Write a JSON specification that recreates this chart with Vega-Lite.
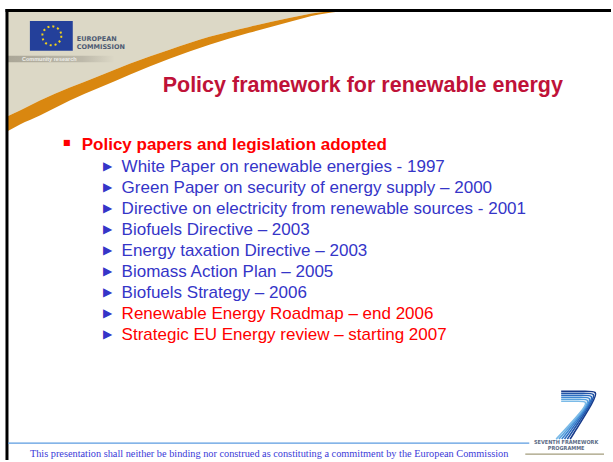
{
  "$schema": "https://vega.github.io/schema/vega-lite/v6.json",
  "width": 613,
  "height": 462,
  "autosize": {"type": "fit", "contains": "padding"},
  "padding": 0,
  "background": "#ffffff",
  "config": {"view": {"stroke": null}},
  "datasets": {
    "band": [
      {"sx": 7, "top": 117, "bot": 132},
      {"sx": 20, "top": 111, "bot": 125},
      {"sx": 40, "top": 101, "bot": 116},
      {"sx": 70, "top": 88, "bot": 101},
      {"sx": 100, "top": 76, "bot": 88},
      {"sx": 130, "top": 64, "bot": 75},
      {"sx": 170, "top": 50, "bot": 59},
      {"sx": 210, "top": 37, "bot": 45},
      {"sx": 250, "top": 27, "bot": 33},
      {"sx": 290, "top": 18, "bot": 22},
      {"sx": 320, "top": 12.5, "bot": 14.5},
      {"sx": 345, "top": 10.5, "bot": 11}
    ],
    "segments": [
      {"part": "frame top", "x1": 5.5, "y1": 10.5, "x2": 613, "y2": 10.5},
      {"part": "frame left", "x1": 7, "y1": 9, "x2": 7, "y2": 462}
    ],
    "footerlines": [
      {"part": "blue", "x1": 8, "y1": 445, "x2": 531, "y2": 445},
      {"part": "olive", "x1": 527, "y1": 456, "x2": 606, "y2": 456}
    ],
    "rects": [
      {"part": "flag", "x1": 30, "y1": 21, "x2": 73, "y2": 51}
    ],
    "strip": [
      {"part": "community", "x1": 7, "y1": 56, "x2": 115, "y2": 62.5}
    ],
    "ring": [{"part": "stars", "sx": 52, "sy": 36}],
    "labels": [
      {"part": "eu1", "sx": 77, "sy": 39, "text": "EUROPEAN"},
      {"part": "eu2", "sx": 77, "sy": 47, "text": "COMMISSION"},
      {"part": "fp1", "sx": 568, "sy": 443.5, "text": "SEVENTH FRAMEWORK"},
      {"part": "fp2", "sx": 568, "sy": 449.5, "text": "PROGRAMME"}
    ],
    "community": [{"sx": 22, "sy": 59.3, "text": "Community research"}],
    "seven": [
      {"k": 0, "i": 0, "sx": 563, "sy": 393}, {"k": 0, "i": 1, "sx": 590, "sy": 393}, {"k": 0, "i": 2, "sx": 599, "sy": 393}, {"k": 0, "i": 3, "sx": 597, "sy": 401}, {"k": 0, "i": 4, "sx": 572, "sy": 441},
      {"k": 1, "i": 0, "sx": 563, "sy": 395}, {"k": 1, "i": 1, "sx": 588.5, "sy": 395}, {"k": 1, "i": 2, "sx": 597, "sy": 395}, {"k": 1, "i": 3, "sx": 594.8, "sy": 403}, {"k": 1, "i": 4, "sx": 569.2, "sy": 441},
      {"k": 2, "i": 0, "sx": 563, "sy": 397}, {"k": 2, "i": 1, "sx": 587, "sy": 397}, {"k": 2, "i": 2, "sx": 595, "sy": 397}, {"k": 2, "i": 3, "sx": 592.6, "sy": 405}, {"k": 2, "i": 4, "sx": 566.4, "sy": 441},
      {"k": 3, "i": 0, "sx": 563, "sy": 399}, {"k": 3, "i": 1, "sx": 585.5, "sy": 399}, {"k": 3, "i": 2, "sx": 593, "sy": 399}, {"k": 3, "i": 3, "sx": 590.4, "sy": 407}, {"k": 3, "i": 4, "sx": 563.6, "sy": 441},
      {"k": 4, "i": 0, "sx": 563, "sy": 401}, {"k": 4, "i": 1, "sx": 584, "sy": 401}, {"k": 4, "i": 2, "sx": 591, "sy": 401}, {"k": 4, "i": 3, "sx": 588.2, "sy": 409}, {"k": 4, "i": 4, "sx": 560.8, "sy": 441},
      {"k": 5, "i": 0, "sx": 563, "sy": 403}, {"k": 5, "i": 1, "sx": 582.5, "sy": 403}, {"k": 5, "i": 2, "sx": 589, "sy": 403}, {"k": 5, "i": 3, "sx": 586, "sy": 411}, {"k": 5, "i": 4, "sx": 558, "sy": 441}
    ],
    "lines": [
      {"line": -2.86, "level": 7.05, "kind": "title", "text": "Policy framework for renewable energy"},
      {"line": 0, "level": 0, "kind": "heading", "text": "Policy papers and legislation adopted"},
      {"line": 1, "level": 1, "kind": "item", "text": "White Paper on renewable energies - 1997"},
      {"line": 2, "level": 1, "kind": "item", "text": "Green Paper on security of energy supply – 2000"},
      {"line": 3, "level": 1, "kind": "item", "text": "Directive on electricity from renewable sources - 2001"},
      {"line": 4, "level": 1, "kind": "item", "text": "Biofuels Directive – 2003"},
      {"line": 5, "level": 1, "kind": "item", "text": "Energy taxation Directive – 2003"},
      {"line": 6, "level": 1, "kind": "item", "text": "Biomass Action Plan – 2005"},
      {"line": 7, "level": 1, "kind": "item", "text": "Biofuels Strategy – 2006"},
      {"line": 8, "level": 1, "kind": "upcoming", "text": "Renewable Energy Roadmap – end 2006"},
      {"line": 9, "level": 1, "kind": "upcoming", "text": "Strategic EU Energy review – starting 2007"},
      {"line": 14.76, "level": -1.3, "kind": "footer", "text": "This presentation shall neither be binding nor construed as constituting a commitment by the European Commission"}
    ]
  },
  "resolve": {"scale": {"x": "independent", "y": "independent", "color": "independent", "size": "independent"}},
  "layer": [
    {
      "data": {"name": "band"},
      "mark": {"type": "area", "color": "#dcd8c6", "interpolate": "monotone"},
      "encoding": {
        "x": {"field": "sx", "type": "quantitative", "scale": {"domain": [0, 613], "nice": false, "zero": false}, "axis": null},
        "y": {"field": "top", "type": "quantitative", "scale": {"domain": [0, 462], "reverse": true, "nice": false, "zero": false}, "axis": null},
        "y2": {"datum": 10}
      }
    },
    {
      "data": {"name": "band"},
      "mark": {"type": "area", "color": "#d98710", "interpolate": "monotone"},
      "encoding": {
        "x": {"field": "sx", "type": "quantitative", "scale": {"domain": [0, 613], "nice": false, "zero": false}, "axis": null},
        "y": {"field": "top", "type": "quantitative", "scale": {"domain": [0, 462], "reverse": true, "nice": false, "zero": false}, "axis": null},
        "y2": {"field": "bot"}
      }
    },
    {
      "data": {"name": "strip"},
      "mark": {"type": "rect", "fill": {"gradient": "linear", "x1": 0, "x2": 1, "y1": 0, "y2": 0, "stops": [{"offset": 0, "color": "#aaa697"}, {"offset": 0.7, "color": "#bdb9aa"}, {"offset": 1, "color": "#dcd8c6"}]}},
      "encoding": {
        "x": {"field": "x1", "type": "quantitative", "scale": {"domain": [0, 613], "nice": false, "zero": false}, "axis": null},
        "x2": {"field": "x2"},
        "y": {"field": "y1", "type": "quantitative", "scale": {"domain": [0, 462], "reverse": true, "nice": false, "zero": false}, "axis": null},
        "y2": {"field": "y2"}
      }
    },
    {
      "data": {"name": "community"},
      "mark": {"type": "text", "font": "Liberation Sans", "fontSize": 5.5, "fontWeight": "bold", "color": "#eeeeea", "align": "left", "baseline": "middle"},
      "encoding": {
        "x": {"field": "sx", "type": "quantitative", "scale": {"domain": [0, 613], "nice": false, "zero": false}, "axis": null},
        "y": {"field": "sy", "type": "quantitative", "scale": {"domain": [0, 462], "reverse": true, "nice": false, "zero": false}, "axis": null},
        "text": {"field": "text"}
      }
    },
    {
      "data": {"name": "rects"},
      "mark": {"type": "rect", "color": "#24409a"},
      "encoding": {
        "x": {"field": "x1", "type": "quantitative", "scale": {"domain": [0, 613], "nice": false, "zero": false}, "axis": null},
        "x2": {"field": "x2"},
        "y": {"field": "y1", "type": "quantitative", "scale": {"domain": [0, 462], "reverse": true, "nice": false, "zero": false}, "axis": null},
        "y2": {"field": "y2"}
      }
    },
    {
      "data": {"name": "ring"},
      "mark": {"type": "point", "shape": "circle", "filled": false, "stroke": "#f2d21a", "strokeWidth": 2, "strokeDash": [2, 3], "size": 361, "opacity": 1},
      "encoding": {
        "x": {"field": "sx", "type": "quantitative", "scale": {"domain": [0, 613], "nice": false, "zero": false}, "axis": null},
        "y": {"field": "sy", "type": "quantitative", "scale": {"domain": [0, 462], "reverse": true, "nice": false, "zero": false}, "axis": null}
      }
    },
    {
      "data": {"name": "labels"},
      "transform": [{"filter": "datum.part == 'eu1' || datum.part == 'eu2'"}],
      "mark": {"type": "text", "font": "DejaVu Sans", "fontSize": 6.5, "fontWeight": "bold", "color": "#4d5a72", "align": "left", "baseline": "middle"},
      "encoding": {
        "x": {"field": "sx", "type": "quantitative", "scale": {"domain": [0, 613], "nice": false, "zero": false}, "axis": null},
        "y": {"field": "sy", "type": "quantitative", "scale": {"domain": [0, 462], "reverse": true, "nice": false, "zero": false}, "axis": null},
        "text": {"field": "text"}
      }
    },
    {
      "data": {"name": "labels"},
      "transform": [{"filter": "datum.part == 'fp1' || datum.part == 'fp2'"}],
      "mark": {"type": "text", "font": "DejaVu Sans Condensed", "fontSize": 5.5, "fontWeight": "bold", "color": "#5c6b85", "align": "center", "baseline": "middle"},
      "encoding": {
        "x": {"field": "sx", "type": "quantitative", "scale": {"domain": [0, 613], "nice": false, "zero": false}, "axis": null},
        "y": {"field": "sy", "type": "quantitative", "scale": {"domain": [0, 462], "reverse": true, "nice": false, "zero": false}, "axis": null},
        "text": {"field": "text"}
      }
    },
    {
      "data": {"name": "seven"},
      "mark": {"type": "line", "interpolate": "basis", "strokeWidth": 1.6},
      "encoding": {
        "x": {"field": "sx", "type": "quantitative", "scale": {"domain": [0, 613], "nice": false, "zero": false}, "axis": null},
        "y": {"field": "sy", "type": "quantitative", "scale": {"domain": [0, 462], "reverse": true, "nice": false, "zero": false}, "axis": null},
        "order": {"field": "i", "type": "quantitative"},
        "detail": {"field": "k", "type": "nominal"},
        "color": {"field": "k", "type": "ordinal", "scale": {"domain": [0, 1, 2, 3, 4, 5], "range": ["#173a8a", "#2155a8", "#2d6dc0", "#3f88d2", "#5aa2de", "#7bbbe8"]}, "legend": null}
      }
    },
    {
      "data": {"name": "segments"},
      "mark": {"type": "rule", "color": "#000000", "strokeWidth": 3},
      "encoding": {
        "x": {"field": "x1", "type": "quantitative", "scale": {"domain": [0, 613], "nice": false, "zero": false}, "axis": null},
        "x2": {"field": "x2"},
        "y": {"field": "y1", "type": "quantitative", "scale": {"domain": [0, 462], "reverse": true, "nice": false, "zero": false}, "axis": null},
        "y2": {"field": "y2"}
      }
    },
    {
      "data": {"name": "footerlines"},
      "mark": {"type": "rule", "strokeWidth": 1.2},
      "encoding": {
        "x": {"field": "x1", "type": "quantitative", "scale": {"domain": [0, 613], "nice": false, "zero": false}, "axis": null},
        "x2": {"field": "x2"},
        "y": {"field": "y1", "type": "quantitative", "scale": {"domain": [0, 462], "reverse": true, "nice": false, "zero": false}, "axis": null},
        "y2": {"field": "y2"},
        "color": {"field": "part", "type": "nominal", "scale": {"domain": ["blue", "olive"], "range": ["#5b9be0", "#a39d7c"]}, "legend": null}
      }
    },
    {
      "data": {"name": "lines"},
      "transform": [{"filter": "datum.kind == 'title'"}],
      "mark": {"type": "text", "font": "Liberation Sans", "fontSize": 21.5, "fontWeight": "bold", "color": "#bf1238", "align": "center", "baseline": "middle"},
      "encoding": {
        "x": {"field": "level", "type": "quantitative", "scale": {"domain": [-2.05, 13.275], "nice": false, "zero": false}, "axis": null},
        "y": {"field": "line", "type": "quantitative", "scale": {"domain": [-6.952, 15.048], "reverse": true, "nice": false, "zero": false}, "axis": null},
        "text": {"field": "text"}
      }
    },
    {
      "data": {"name": "lines"},
      "transform": [{"filter": "datum.kind == 'heading'"}],
      "mark": {"type": "text", "font": "Liberation Sans", "fontSize": 17, "fontWeight": "bold", "color": "#ff0000", "align": "left", "baseline": "middle"},
      "encoding": {
        "x": {"field": "level", "type": "quantitative", "scale": {"domain": [-2.05, 13.275], "nice": false, "zero": false}, "axis": null},
        "y": {"field": "line", "type": "quantitative", "scale": {"domain": [-6.952, 15.048], "reverse": true, "nice": false, "zero": false}, "axis": null},
        "text": {"field": "text"}
      }
    },
    {
      "data": {"name": "lines"},
      "transform": [{"filter": "datum.kind == 'heading'"}],
      "mark": {"type": "text", "font": "DejaVu Sans", "fontSize": 8, "color": "#ff0000", "align": "center", "baseline": "middle", "dx": -15, "dy": -2, "text": "■"},
      "encoding": {
        "x": {"field": "level", "type": "quantitative", "scale": {"domain": [-2.05, 13.275], "nice": false, "zero": false}, "axis": null},
        "y": {"field": "line", "type": "quantitative", "scale": {"domain": [-6.952, 15.048], "reverse": true, "nice": false, "zero": false}, "axis": null}
      }
    },
    {
      "data": {"name": "lines"},
      "transform": [{"filter": "datum.kind == 'item' || datum.kind == 'upcoming'"}],
      "mark": {"type": "text", "font": "Liberation Sans", "fontSize": 17, "align": "left", "baseline": "middle", "dy": 1},
      "encoding": {
        "x": {"field": "level", "type": "quantitative", "scale": {"domain": [-2.05, 13.275], "nice": false, "zero": false}, "axis": null},
        "y": {"field": "line", "type": "quantitative", "scale": {"domain": [-6.952, 15.048], "reverse": true, "nice": false, "zero": false}, "axis": null},
        "text": {"field": "text"},
        "color": {"field": "kind", "type": "nominal", "scale": {"domain": ["item", "upcoming"], "range": ["#3535c8", "#ff0000"]}, "legend": null}
      }
    },
    {
      "data": {"name": "lines"},
      "transform": [{"filter": "datum.kind == 'item' || datum.kind == 'upcoming'"}],
      "mark": {"type": "text", "font": "DejaVu Sans", "fontSize": 12, "color": "#3535c8", "align": "center", "baseline": "middle", "dx": -14, "dy": 0, "text": "▶"},
      "encoding": {
        "x": {"field": "level", "type": "quantitative", "scale": {"domain": [-2.05, 13.275], "nice": false, "zero": false}, "axis": null},
        "y": {"field": "line", "type": "quantitative", "scale": {"domain": [-6.952, 15.048], "reverse": true, "nice": false, "zero": false}, "axis": null}
      }
    },
    {
      "data": {"name": "lines"},
      "transform": [{"filter": "datum.kind == 'footer'"}],
      "mark": {"type": "text", "font": "Liberation Serif", "fontSize": 10.3, "color": "#3a3ad8", "align": "left", "baseline": "middle"},
      "encoding": {
        "x": {"field": "level", "type": "quantitative", "scale": {"domain": [-2.05, 13.275], "nice": false, "zero": false}, "axis": null},
        "y": {"field": "line", "type": "quantitative", "scale": {"domain": [-6.952, 15.048], "reverse": true, "nice": false, "zero": false}, "axis": null},
        "text": {"field": "text"}
      }
    }
  ]
}
